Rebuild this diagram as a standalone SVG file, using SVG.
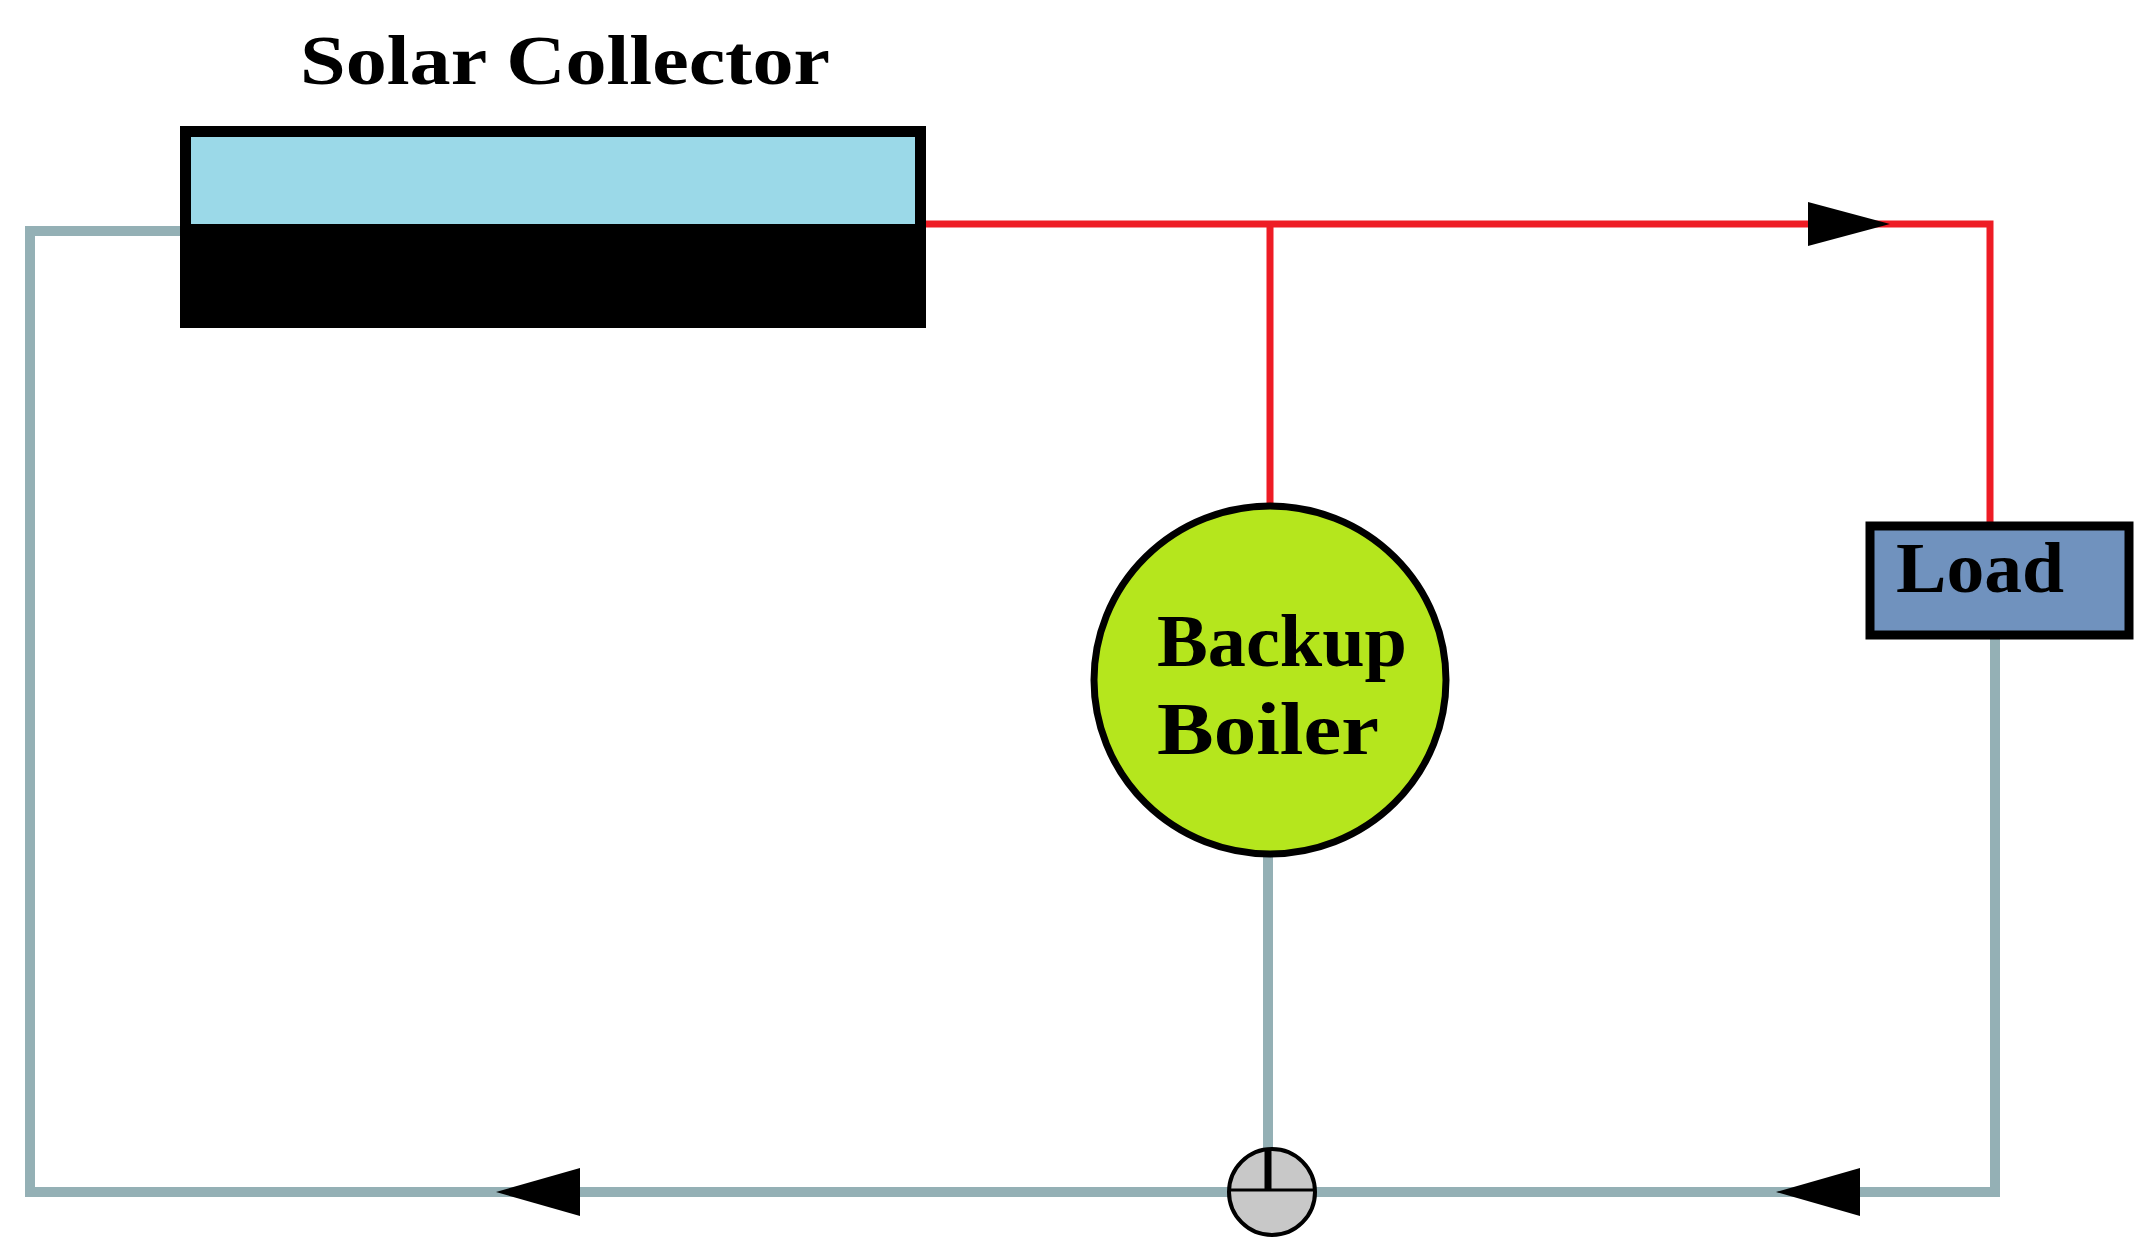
<svg xmlns="http://www.w3.org/2000/svg" width="2156" height="1253" viewBox="0 0 2156 1253">
<style>
.t{font-family:"Liberation Serif",serif;font-weight:bold;fill:#000}
.g{stroke:#94b0b5;stroke-width:10;fill:none}
.r{stroke:#ee1c24;stroke-width:7;fill:none}
</style>
<rect width="2156" height="1253" fill="#fff"/>
<g id="connectors">
<polyline class="g" points="180,231 30,231 30,1192 1995,1192 1995,639"/>
<line class="g" x1="1268" y1="855" x2="1268" y2="1150"/>
<polyline class="r" points="926,224 1990,224 1990,522"/>
<line class="r" x1="1270" y1="224" x2="1270" y2="505"/>
<polygon points="1808,202 1890,224 1808,246" fill="#000"/>
<polygon points="580,1168 496,1192 580,1216" fill="#000"/>
<polygon points="1860,1168 1776,1192 1860,1216" fill="#000"/>
</g>
<g id="collector">
<text class="t" x="300" y="84" font-size="70" textLength="530" lengthAdjust="spacingAndGlyphs">Solar Collector</text>
<rect x="180" y="126" width="746" height="202" fill="#000"/>
<rect x="191" y="137" width="724" height="87" fill="#9bd9e8"/>
</g>
<g id="boiler">
<ellipse cx="1270" cy="680" rx="176" ry="174" fill="#b5e61d" stroke="#000" stroke-width="7"/>
<text class="t" x="1157" y="666" font-size="74" textLength="250" lengthAdjust="spacingAndGlyphs">Backup</text>
<text class="t" x="1157" y="754" font-size="74" textLength="222" lengthAdjust="spacingAndGlyphs">Boiler</text>
</g>
<g id="load">
<rect x="1870" y="526" width="259" height="109" fill="#7092be" stroke="#000" stroke-width="9"/>
<text class="t" x="1896" y="592" font-size="72" textLength="168" lengthAdjust="spacingAndGlyphs">Load</text>
</g>
<g id="valve">
<circle cx="1272" cy="1192" r="43" fill="#c8c8c8" stroke="#000" stroke-width="4"/>
<line x1="1230" y1="1190" x2="1314" y2="1190" stroke="#000" stroke-width="3"/>
<line x1="1268" y1="1150" x2="1268" y2="1190" stroke="#000" stroke-width="7"/>
</g>
</svg>
